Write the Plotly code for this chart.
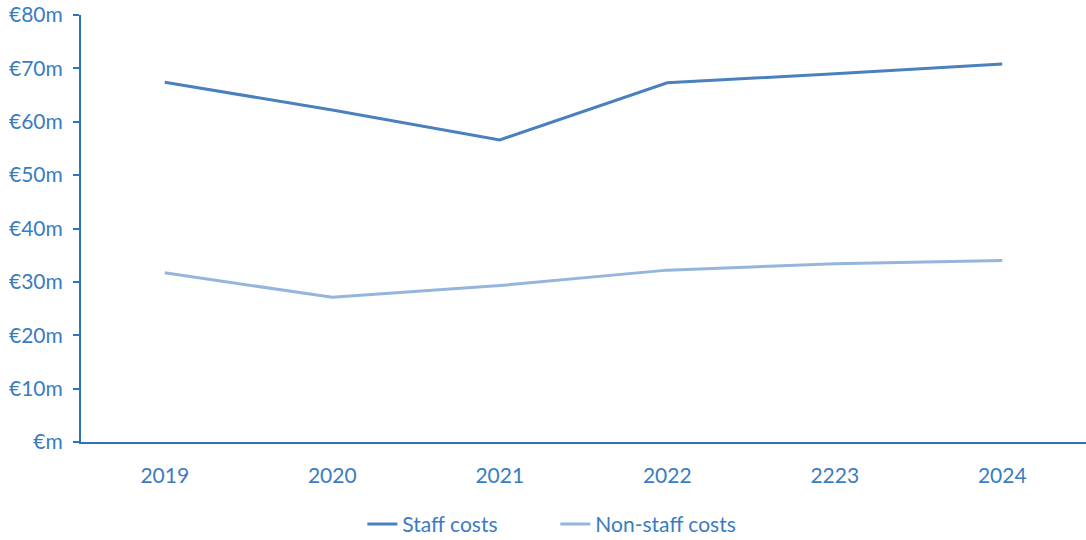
import plotly.graph_objects as go

years = ["2019", "2020", "2021", "2022", "2223", "2024"]
staff_costs = [67.4, 62.2, 56.6, 67.3, 69.0, 70.8]
non_staff_costs = [31.7, 27.1, 29.3, 32.2, 33.4, 34.0]
y_ticks = [0, 10, 20, 30, 40, 50, 60, 70, 80]
y_tick_labels = ["€m" if v == 0 else f"€{v}m" for v in y_ticks]

axis_color = "#2E75B6"
text_color = "#3A7CC0"
font_family = "Lato, 'Open Sans', sans-serif"

fig = go.Figure()
fig.add_trace(go.Scatter(
    x=years, y=staff_costs, name="Staff costs", mode="lines",
    line=dict(color="#4A80BE", width=3),
))
fig.add_trace(go.Scatter(
    x=years, y=non_staff_costs, name="Non-staff costs", mode="lines",
    line=dict(color="#95B5DD", width=3),
))

fig.update_layout(
    width=1086, height=540,
    margin=dict(l=81, r=0, t=15, b=98, autoexpand=False),
    paper_bgcolor="white", plot_bgcolor="white",
    font=dict(family=font_family, size=21, color=text_color),
    showlegend=True,
    legend=dict(
        orientation="h", x=0.472, xanchor="center", y=-0.193, yanchor="middle",
        font=dict(size=21, color=text_color),
        entrywidth=148, entrywidthmode="pixels",
    ),
)
fig.update_xaxes(
    type="category", range=[-0.5, 5.5], automargin=False,
    showgrid=False, zeroline=False,
    showline=True, linecolor=axis_color, linewidth=2,
    ticks="", ticklabelstandoff=14,
    tickfont=dict(size=21, color=text_color),
)
fig.update_yaxes(
    range=[0, 80], tickvals=y_ticks, ticktext=y_tick_labels, automargin=False,
    showgrid=False, zeroline=False,
    showline=True, linecolor=axis_color, linewidth=2,
    ticks="outside", ticklen=6, tickwidth=2, tickcolor=axis_color,
    ticklabelstandoff=6,
    tickfont=dict(size=21, color=text_color),
)

fig.write_html("out.html")
